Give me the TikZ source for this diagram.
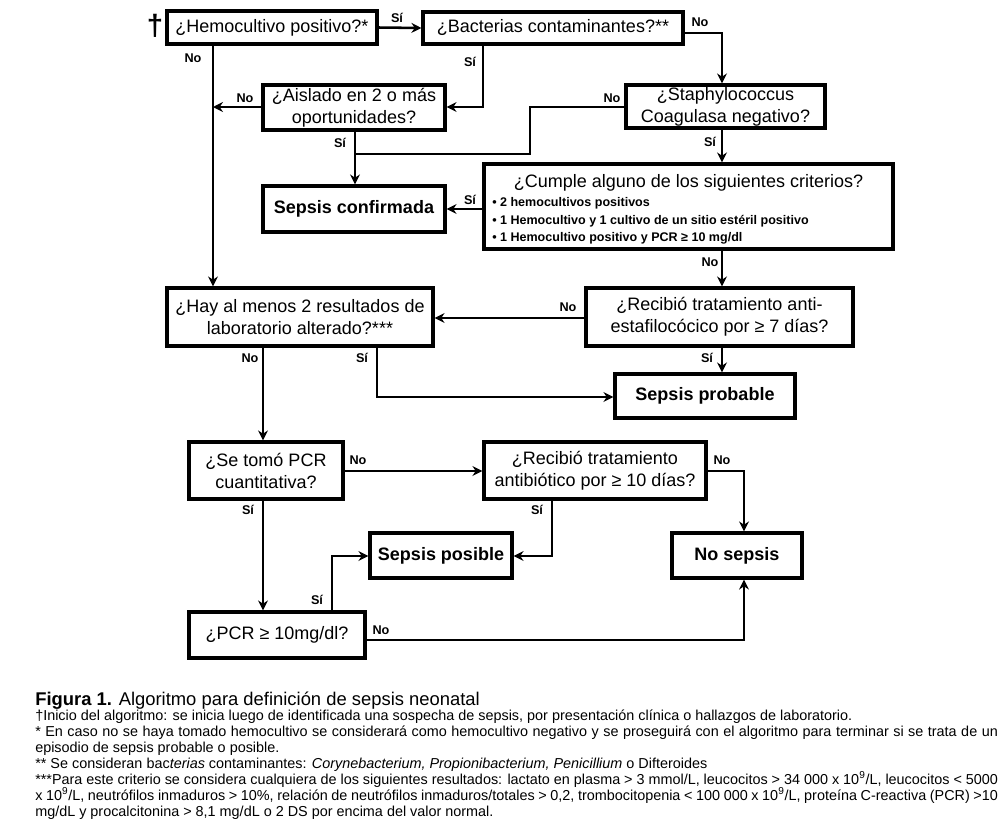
\documentclass[tikz,border=0pt]{standalone}
\usepackage{fontspec}
\setmainfont{Liberation Sans}
\usetikzlibrary{arrows.meta}
\newcommand\bxnode[7][]{\node[bx,#1, minimum width={(#5-#3)*0.75pt}, minimum height={(#6-#4)*0.75pt}] (#2) at ({(#3+#5)/2},{(#4+#6)/2}) {#7};}
\begin{document}
\begin{tikzpicture}[x=0.75pt,y=-0.75pt,
 bx/.style={draw, line width=2.4pt, align=center, inner sep=0pt, font=\fontsize{13.5}{16.5}\selectfont},
 boldbx/.style={font=\fontsize{13.5}{16.5}\selectfont\bfseries},
 conn/.style={line width=1.9pt, -{Stealth[length=7.5pt,width=7.5pt,inset=2.5pt]}},
 plainline/.style={line width=1.9pt},
 lbl/.style={font=\fontsize{9.5}{11}\selectfont\bfseries, inner sep=0pt},
 smalltxt/.style={font=\fontsize{9.4}{10}\selectfont\bfseries, inner sep=0pt, anchor=base west},
 captxt/.style={font=\fontsize{10.8}{12}\selectfont, inner sep=0pt, anchor=base west}]
\useasboundingbox (0,0) rectangle (1008,839);
\fill[white] (0,0) rectangle (1008,839);

% boxes
\bxnode{A}{167}{11}{377}{44}{¿Hemocultivo positivo?*}
\bxnode{B}{423}{12}{683}{44}{¿Bacterias contaminantes?**}
\bxnode{Ais}{263}{85}{445}{130}{¿Aislado en 2 o más\\oportunidades?}
\bxnode{Sta}{626}{85}{825}{128}{¿Staphylococcus\\Coagulasa negativo?}
\bxnode[boldbx]{SC}{263}{186}{445}{232}{Sepsis confirmada}
\bxnode{Cum}{484}{164}{893}{249}{}
\bxnode{Hay}{167}{288}{433}{346}{¿Hay al menos 2 resultados de\\laboratorio alterado?***}
\bxnode{RecA}{586}{288}{853}{346}{¿Recibió tratamiento anti-\\estafilocócico por ≥ 7 días?}
\bxnode[boldbx]{SP}{615}{374}{795}{418}{Sepsis probable}
\bxnode{Tom}{189}{442}{343}{499}{¿Se tomó PCR\\cuantitativa?}
\bxnode{RecB}{484}{442}{706}{499}{¿Recibió tratamiento\\antibiótico por ≥ 10 días?}
\bxnode[boldbx]{Pos}{370}{533}{512}{578}{Sepsis posible}
\bxnode[boldbx]{NoS}{672}{533}{802}{578}{No sepsis}
\bxnode{PCR}{189}{612}{365}{658}{¿PCR ≥ 10mg/dl?}

% Cumple contents
\node[font=\fontsize{13.5}{15}\selectfont, inner sep=0pt, anchor=base] (CumT) at (688.5,187) {¿Cumple alguno de los siguientes criterios?};
\node[smalltxt] (CumB1) at (492,206) {• 2 hemocultivos positivos};
\node[smalltxt] (CumB2) at (492,224) {• 1 Hemocultivo y 1 cultivo de un sitio estéril positivo};
\node[smalltxt] (CumB3) at (492,241) {• 1 Hemocultivo positivo y PCR ≥ 10 mg/dl};

% dagger
\node[font=\fontsize{22}{24}\selectfont\bfseries, inner sep=0pt] (dag) at (155,26) {†};

% helper coordinates
\coordinate (xa) at (213,0);
\coordinate (xb) at (483,0);
\coordinate (xc) at (722,0);
\coordinate (xd) at (355,0);
\coordinate (xe) at (530,0);
\coordinate (xf) at (263,0);
\coordinate (xg) at (377,0);
\coordinate (xh) at (552,0);
\coordinate (xi) at (744,0);
\coordinate (xj) at (332,0);
\coordinate (ya) at (0,107);
\coordinate (yb) at (0,33);
\coordinate (yc) at (0,154);
\coordinate (yd) at (0,209);
\coordinate (ye) at (0,318);
\coordinate (yf) at (0,397);
\coordinate (yg) at (0,471);
\coordinate (yh) at (0,556);
\coordinate (yi) at (0,640);
\coordinate (jA) at (213,107);
\coordinate (jS) at (355,154);

% connectors
\draw[conn] (A.east) -- (B.west);
\draw[conn] (A.south -| xa) -- (Hay.north -| xa);
\draw[conn] (B.south -| xb) -- (xb |- ya) -- (Ais.east |- ya);
\draw[conn] (B.east |- yb) -- (xc |- yb) -- (Sta.north -| xc);
\draw[conn] (Ais.west |- ya) -- (jA);
\draw[conn] (Ais.south -| xd) -- (SC.north -| xd);
\draw[plainline] (Sta.west |- ya) -- (xe |- ya) -- (xe |- yc) -- (jS);
\draw[conn] (Sta.south -| xc) -- (Cum.north -| xc);
\draw[conn] (Cum.west |- yd) -- (SC.east |- yd);
\draw[conn] (Cum.south -| xc) -- (RecA.north -| xc);
\draw[conn] (RecA.west |- ye) -- (Hay.east |- ye);
\draw[conn] (RecA.south -| xc) -- (SP.north -| xc);
\draw[conn] (Hay.south -| xg) -- (xg |- yf) -- (SP.west |- yf);
\draw[conn] (Hay.south -| xf) -- (Tom.north -| xf);
\draw[conn] (Tom.east |- yg) -- (RecB.west |- yg);
\draw[conn] (Tom.south -| xf) -- (PCR.north -| xf);
\draw[conn] (RecB.south -| xh) -- (xh |- yh) -- (Pos.east |- yh);
\draw[conn] (RecB.east |- yg) -- (xi |- yg) -- (NoS.north -| xi);
\draw[conn] (PCR.north -| xj) -- (xj |- yh) -- (Pos.west |- yh);
\draw[conn] (PCR.east |- yi) -- (xi |- yi) -- (NoS.south -| xi);

% labels
\node[lbl] (l1) at (397,18) {Sí};
\node[lbl] (l2) at (193,58) {No};
\node[lbl] (l3) at (470,62) {Sí};
\node[lbl] (l4) at (700,22) {No};
\node[lbl] (l5) at (245,98) {No};
\node[lbl] (l6) at (340,143) {Sí};
\node[lbl] (l7) at (612,98) {No};
\node[lbl] (l8) at (710,142) {Sí};
\node[lbl] (l9) at (470,200) {Sí};
\node[lbl] (l10) at (710,262) {No};
\node[lbl] (l11) at (568,307) {No};
\node[lbl] (l12) at (707,358) {Sí};
\node[lbl] (l13) at (362,358) {Sí};
\node[lbl] (l14) at (250,358) {No};
\node[lbl] (l15) at (358,460) {No};
\node[lbl] (l16) at (248,510) {Sí};
\node[lbl] (l17) at (537,510) {Sí};
\node[lbl] (l18) at (722,460) {No};
\node[lbl] (l19) at (317,600) {Sí};
\node[lbl] (l20) at (381,630) {No};

% caption
\node[captxt, font=\fontsize{13.8}{15}\selectfont] (c0) at (35,705) {\textbf{Figura 1.} Algoritmo para definición de sepsis neonatal};
\node[captxt] (c1) at (35,720) {†Inicio del algoritmo: se inicia luego de identificada una sospecha de sepsis, por presentación clínica o hallazgos de laboratorio.};
\node[captxt] (c2) at (35,736) {\makebox[722pt][s]{* En caso no se haya tomado hemocultivo se considerará como hemocultivo negativo y se proseguirá con el algoritmo para terminar si se trata de un}};
\node[captxt] (c3) at (35,752) {episodio de sepsis probable o posible.};
\node[captxt] (c4) at (35,768) {** Se consideran bac\textit{terias} contaminantes: \textit{Corynebacterium, Propionibacterium, Penicillium} o Difteroides};
\node[captxt] (c5) at (35,784) {\makebox[722pt][s]{***Para este criterio se considera cualquiera de los siguientes resultados: lactato en plasma > 3 mmol/L, leucocitos > 34 000 x 10\textsuperscript{9}/L, leucocitos < 5000}};
\node[captxt] (c6) at (35,800) {\makebox[722pt][s]{x 10\textsuperscript{9}/L, neutrófilos inmaduros > 10\%, relación de neutrófilos inmaduros/totales > 0,2, trombocitopenia < 100 000 x 10\textsuperscript{9}/L, proteína C-reactiva (PCR) >10}};
\node[captxt] (c7) at (35,816) {mg/dL y procalcitonina > 8,1 mg/dL o 2 DS por encima del valor normal.};
\end{tikzpicture}
\end{document}
